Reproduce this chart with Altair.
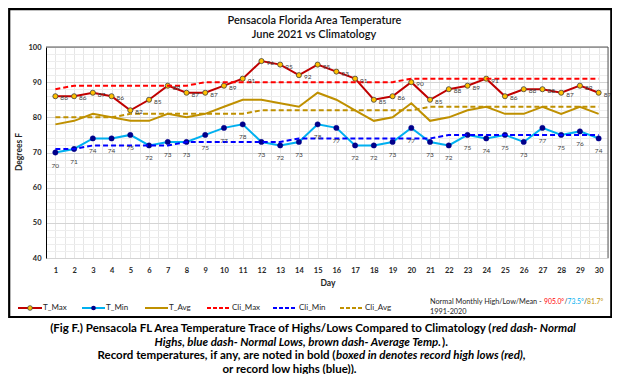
import altair as alt
import pandas as pd

# ---------------- data ----------------
days = list(range(1, 31))
t_max = [86, 86, 87, 86, 82, 85, 89, 87, 87, 89, 91, 96, 95, 92, 95,
         93, 91, 85, 86, 90, 85, 88, 89, 91, 86, 88, 88, 87, 89, 87]
t_min = [70, 71, 74, 74, 75, 72, 73, 73, 75, 77, 78, 73, 72, 73, 78,
         77, 72, 72, 73, 77, 73, 72, 75, 74, 75, 73, 77, 75, 76, 74]
t_avg = [78, 79, 81, 80, 79, 79, 81, 80, 81, 83, 85, 85, 84, 83, 87,
         85, 82, 79, 80, 84, 79, 80, 82, 83, 81, 81, 83, 81, 83, 81]
cli_max = [88, 89, 89, 89, 89, 89, 89, 89, 90, 90, 90, 90, 90, 90, 90,
           90, 90, 90, 90, 91, 91, 91, 91, 91, 91, 91, 91, 91, 91, 91]
cli_min = [71, 71, 72, 72, 72, 72, 72, 73, 73, 73, 73, 73, 73, 74, 74,
           74, 74, 74, 74, 74, 74, 75, 75, 75, 75, 75, 75, 75, 75, 75]
cli_avg = [80, 80, 80, 80, 81, 81, 81, 81, 81, 81, 81, 82, 82, 82, 82,
           82, 82, 82, 82, 82, 83, 83, 83, 83, 83, 83, 83, 83, 83, 83]

title_lines = ["Pensacola Florida Area Temperature", "June 2021 vs Climatology"]
y_title = "Degrees F"
x_title = "Day"
legend_names = ["T_Max", "T_Min", "T_Avg", "Cli_Max", "Cli_Min", "Cli_Avg"]
normal_label = "Normal Monthly High/Low/Mean - "
normal_vals = ["905.0°", "73.5°", "81.7°"]
normal_period = "1991-2020"

df = pd.DataFrame({"day": days, "T_Max": t_max, "T_Min": t_min, "T_Avg": t_avg,
                   "Cli_Max": cli_max, "Cli_Min": cli_min, "Cli_Avg": cli_avg})

FONT = "Lato, sans-serif"
W, H = 562, 211

C_TMAX = "#C00000"
C_TMIN = "#00B0F0"
C_TAVG = "#BF9000"
C_CMAX = "#FF0000"
C_CMIN = "#0000FF"
C_CAVG = "#BF9000"

x_grid_vals = [v / 2 for v in range(1, 62)]
y_vals = list(range(40, 101, 2))

xs = alt.Scale(domain=[0.5, 30.5], nice=False, zero=False)
ys = alt.Scale(domain=[40, 100], nice=False, zero=False)

x_axis = alt.Axis(
    values=x_grid_vals, grid=True, gridColor="#E6E6E6", gridWidth=1,
    ticks=False, domain=False, title=None,
    labelExpr="datum.value % 1 === 0 ? format(datum.value, 'd') : ''",
    labelFont=FONT, labelFontSize=7.5, labelFontWeight="bold", labelColor="#262626",
    labelPadding=8, labelBaseline="top")

y_axis = alt.Axis(values=y_vals, grid=True,
                  gridColor={"condition": {"test": "datum.value % 10 === 0", "value": "#D4D4D4"},
                             "value": "#EDEDED"},
                  gridWidth=1, ticks=False, domain=True, domainColor="#000000", domainWidth=1,
                  title=None,
                  labelExpr="datum.value % 10 === 0 ? format(datum.value, 'd') : ''",
                  labelFont=FONT, labelFontSize=7.5, labelFontWeight="bold", labelColor="#262626",
                  labelPadding=5)


def X():
    return alt.X("day:Q", scale=xs, axis=x_axis)


def Y(field):
    return alt.Y(f"{field}:Q", scale=ys, axis=y_axis)


base = alt.Chart(df)

avg_line = base.mark_line(color=C_TAVG, strokeWidth=2).encode(x=X(), y=Y("T_Avg"))
max_line = base.mark_line(color=C_TMAX, strokeWidth=2).encode(x=X(), y=Y("T_Max"))
min_line = base.mark_line(color=C_TMIN, strokeWidth=2).encode(x=X(), y=Y("T_Min"))
max_pts = base.mark_point(filled=True, fill="#FFC000", stroke="#404040", strokeWidth=0.8,
                          size=26, opacity=1).encode(x=X(), y=Y("T_Max"))
min_pts = base.mark_point(filled=True, fill="#00008B", stroke="#00008B", strokeWidth=0.5,
                          size=28, opacity=1).encode(x=X(), y=Y("T_Min"))

dash = [5, 3]
cmax_line = base.mark_line(color=C_CMAX, strokeWidth=2, strokeDash=dash).encode(x=X(), y=Y("Cli_Max"))
cmin_line = base.mark_line(color=C_CMIN, strokeWidth=2, strokeDash=dash).encode(x=X(), y=Y("Cli_Min"))
cavg_line = base.mark_line(color=C_CAVG, strokeWidth=2, strokeDash=dash).encode(x=X(), y=Y("Cli_Avg"))

max_lbl = base.mark_text(align="left", baseline="middle", dx=5, dy=2, font=FONT,
                         fontSize=6.5, color="#404040").encode(
    x=X(), y=Y("T_Max"), text=alt.Text("T_Max:Q", format="d"))
min_lbl = base.mark_text(align="center", baseline="middle", dy=13, font=FONT,
                         fontSize=6.5, color="#404040").encode(
    x=X(), y=Y("T_Min"), text=alt.Text("T_Min:Q", format="d"))

one = alt.Chart(pd.DataFrame({"k": [0]}))


def txt(s, x, y, size=8, weight="normal", color="#262626", align="left", style="normal",
        angle=0, baseline="middle"):
    kw = dict(align=align, baseline=baseline, font=FONT, fontSize=size, fontWeight=weight,
              color=color, fontStyle=style, text=s)
    if angle:
        kw["angle"] = angle
    return one.mark_text(**kw).encode(x=alt.value(x), y=alt.value(y))


def seg(x1, x2, y, color, dashed=False, width=2):
    kw = dict(color=color, strokeWidth=width)
    if dashed:
        kw["strokeDash"] = [4, 2]
    return one.mark_rule(**kw).encode(x=alt.value(x1), x2=alt.value(x2), y=alt.value(y))


# plot border (top/right)
borders = [
    seg(0, W, 0, "#595959", width=1),
    one.mark_rule(color="#595959", strokeWidth=1).encode(x=alt.value(W), y=alt.value(0), y2=alt.value(H)),
]

# outer frame
frame = one.mark_rect(fill=None, stroke="#000000", strokeWidth=2.2).encode(
    x=alt.value(-36.8), x2=alt.value(565.3), y=alt.value(-37.8), y2=alt.value(270))

# titles
titles = [
    txt(title_lines[0], 268.5, -26.5, size=11, weight=600, align="center", color="#111111"),
    txt(title_lines[1], 268, -12.3, size=11, weight=600, align="center", color="#111111"),
    txt(y_title, -27, 105, size=8.5, weight="bold", align="center", angle=270),
    txt(x_title, 282, 236, size=8.5, weight="bold", align="center"),
]

# legend
LY = 261
VS = 6.8
legend = [
    seg(-28, -4, LY, C_TMAX),
    one.mark_point(filled=True, fill="#FFC000", stroke="#404040", strokeWidth=0.8, size=22,
                   opacity=1).encode(x=alt.value(-16), y=alt.value(LY)),
    txt(legend_names[0], -3, LY),
    seg(36, 59, LY, C_TMIN),
    one.mark_point(filled=True, fill="#00008B", size=22, opacity=1).encode(
        x=alt.value(47.5), y=alt.value(LY)),
    txt(legend_names[1], 60, LY),
    seg(99, 122, LY, C_TAVG),
    txt(legend_names[2], 123, LY),
    seg(161, 184, LY, C_CMAX, dashed=True),
    txt(legend_names[3], 186, LY),
    seg(227, 251, LY, C_CMIN, dashed=True),
    txt(legend_names[4], 253, LY),
    seg(294, 316, LY, C_CAVG, dashed=True),
    txt(legend_names[5], 319, LY),
    txt(normal_label, 384, 255, size=7.3),
    txt(normal_vals[0], 498, 255, size=VS, color="#FF0000"),
    txt("/", 518.5, 255, size=VS),
    txt(normal_vals[1], 521.5, 255, size=VS, color="#00B0F0"),
    txt("/", 538, 255, size=VS),
    txt(normal_vals[2], 541, 255, size=VS, color="#BF9000"),
    txt(normal_period, 384, 265, size=7.3),
]

# caption below frame
CS = 11.5
caption = [
    txt("(Fig F.) Pensacola FL Area Temperature Trace of Highs/Lows Compared to Climatology (",
        445.5, 281.5, size=CS, weight="bold", align="right", color="#000000"),
    txt("red dash- Normal", 446, 281.5, size=CS, weight="bold", style="italic", color="#000000"),
    txt("Highs, blue dash- Normal Lows, brown dash- Average Temp.", 395, 295.5, size=CS,
        weight="bold", style="italic", align="right", color="#000000"),
    txt(").", 396, 295.5, size=CS, weight="bold", color="#000000"),
    txt("Record temperatures, if any, are noted in bold (", 289.5, 309, size=CS, weight="bold",
        align="right", color="#000000"),
    txt("boxed in denotes record high lows (red),", 290, 309, size=CS, weight="bold",
        style="italic", color="#000000"),
    txt("or record low highs (blue)).", 243.5, 322.5, size=CS, weight="bold", align="center",
        color="#000000"),
]

chart = alt.layer(
    max_line, max_pts, min_line, min_pts, avg_line,
    cmax_line, cmin_line, cavg_line, max_lbl, min_lbl,
    *borders, frame, *titles, *legend, *caption
).properties(
    width=W, height=H,
    autosize=alt.AutoSizeParams(type="none"),
    padding={"left": 38, "top": 39, "right": 4, "bottom": 116},
    background="white",
).configure_view(stroke=None)

chart.save("out.html", embed_options={"renderer": "svg", "actions": False})
